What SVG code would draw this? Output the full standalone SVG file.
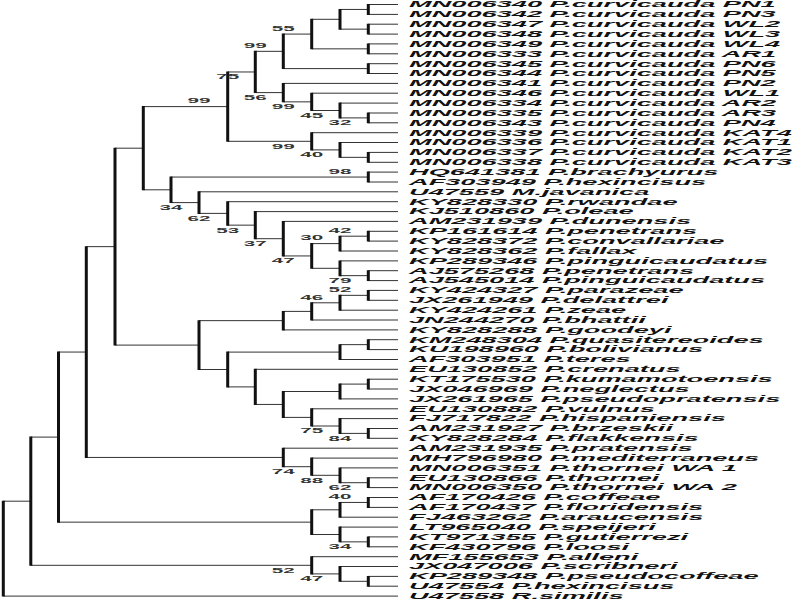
<svg xmlns="http://www.w3.org/2000/svg" width="800" height="600" viewBox="0 0 800 600">
<style>
.h{stroke:#333;stroke-width:1;fill:none}
.v{stroke:#111;stroke-width:3;fill:none}
.lf{font-family:"Liberation Sans",Arial,sans-serif;font-weight:bold;font-style:italic;font-size:8.5px;fill:#111}
.bs{font-family:"Liberation Sans",Arial,sans-serif;font-weight:bold;font-size:7.5px;fill:#333;text-anchor:middle}
</style>
<rect width="800" height="600" fill="#fff"/>
<g id="connectors">
<path class="h" d="M368.3 4.5H398M368.3 14.4H398M368.3 24.2H398M368.3 34.1H398M340 9.45H368.3M340 29.15H368.3M368.3 43.9H398M368.3 53.8H398M311.7 19.3H340M311.7 48.85H368.3M368.3 63.7H398M368.3 73.5H398M283.3 34.08H311.7M283.3 68.6H368.3"/>
<path class="h" d="M368.3 113H398M368.3 122.8H398M340 103.1H398M340 117.9H368.3M311.7 93.2H398M311.7 110.5H340M283.3 83.4H398M283.3 101.85H311.7M255.3 51.34H283.3M255.3 92.6H283.3"/>
<path class="h" d="M368.3 152.4H398M368.3 162.3H398M340 142.5H398M340 157.35H368.3M311.7 132.7H398M311.7 149.9H340M227.7 71.97H255.3M227.7 141.3H311.7"/>
<path class="h" d="M368.3 172.1H398M368.3 182H398M368.3 231.3H398M368.3 241.1H398M340 236.2H368.3M340 251H398M368.3 270.7H398M368.3 280.6H398M340 260.9H398M340 275.65H368.3M311.7 243.6H340M311.7 268.3H340M283.3 221.4H398M283.3 255.95H311.7M255.3 211.6H398M255.3 238.7H283.3M227.7 201.7H398M227.7 225.15H255.3M199 191.8H398M199 213.4H227.7M171 177.05H368.3M171 202.6H199M143.3 106.6H227.7M143.3 189.8H171"/>
<path class="h" d="M368.3 290.4H398M368.3 300.3H398M340 295.35H368.3M340 310.2H398M311.7 302.8H340M311.7 320H398M283.3 311.4H311.7M283.3 329.9H398M368.3 339.7H398M368.3 349.6H398M340 344.65H368.3M340 359.5H398M368.3 379.2H398M368.3 389H398M340 384.1H368.3M340 398.9H398M368.3 428.5H398M368.3 438.3H398M340 418.6H398M340 433.4H368.3M311.7 408.8H398M311.7 426H340M283.3 391.5H340M283.3 417.4H311.7M255.3 369.3H398M255.3 404.45H283.3M227.7 352.1H340M227.7 386.9H255.3M199 320.65H283.3M199 369.5H227.7M115 148.2H143.3M115 345.1H199"/>
<path class="h" d="M368.3 477.8H398M368.3 487.6H398M340 467.9H398M340 482.7H368.3M311.7 458.1H398M311.7 475.3H340M283.3 448.2H398M283.3 466.7H311.7M86.3 246.65H115M86.3 457.45H283.3"/>
<path class="h" d="M368.3 497.5H398M368.3 507.4H398M340 502.45H368.3M340 517.2H398M368.3 536.9H398M368.3 546.8H398M340 527.1H398M340 541.85H368.3M311.7 509.8H340M311.7 534.5H340M58.5 352.05H86.3M58.5 522.15H311.7"/>
<path class="h" d="M368.3 576.4H398M368.3 586.2H398M340 566.5H398M340 581.3H368.3M311.7 556.7H398M311.7 573.9H340M30.8 437.1H58.5M30.8 565.3H311.7M3.3 501.2H30.8M3.3 596.1H398"/>
<path class="v" d="M368.3 4V14.9M368.3 23.7V34.6M340 8.95V29.65M368.3 43.4V54.3M311.7 18.8V49.35M368.3 63.2V74M283.3 33.58V69.1M368.3 112.5V123.3M340 102.6V118.4M311.7 92.7V111M283.3 82.9V102.35M255.3 50.84V93.1M368.3 151.9V162.8M340 142V157.85M311.7 132.2V150.4M227.7 71.47V141.8"/>
<path class="v" d="M368.3 171.6V182.5M368.3 230.8V241.6M340 235.7V251.5M368.3 270.2V281.1M340 260.4V276.15M311.7 243.1V268.8M283.3 220.9V256.45M255.3 211.1V239.2M227.7 201.2V225.65M199 191.3V213.9M171 176.55V203.1M143.3 106.1V190.3"/>
<path class="v" d="M368.3 289.9V300.8M340 294.85V310.7M311.7 302.3V320.5M283.3 310.9V330.4M368.3 339.2V350.1M340 344.15V360M368.3 378.7V389.5M340 383.6V399.4M368.3 428V438.8M340 418.1V433.9M311.7 408.3V426.5M283.3 391V417.9M255.3 368.8V404.95M227.7 351.6V387.4M199 320.15V370M115 147.7V345.6"/>
<path class="v" d="M368.3 477.3V488.1M340 467.4V483.2M311.7 457.6V475.8M283.3 447.7V467.2M86.3 246.15V457.95M368.3 497V507.9M340 501.95V517.7M368.3 536.4V547.3M340 526.6V542.35M311.7 509.3V535M58.5 351.55V522.65M368.3 575.9V586.7M340 566V581.8M311.7 556.2V574.4M30.8 436.6V565.8M3.3 500.7V596.6"/>
</g>
<g id="leaves">
<g id="leaf-0"><text class="lf" transform="translate(409,7.3) scale(3.2,1)">MN006340 P.curvicauda PN1</text></g>
<g id="leaf-1"><text class="lf" transform="translate(409,17.2) scale(3.2,1)">MN006342 P.curvicauda PN3</text></g>
<g id="leaf-2"><text class="lf" transform="translate(409,27) scale(3.2,1)">MN006347 P.curvicauda WL2</text></g>
<g id="leaf-3"><text class="lf" transform="translate(409,36.9) scale(3.2,1)">MN006348 P.curvicauda WL3</text></g>
<g id="leaf-4"><text class="lf" transform="translate(409,46.7) scale(3.2,1)">MN006349 P.curvicauda WL4</text></g>
<g id="leaf-5"><text class="lf" transform="translate(409,56.6) scale(3.2,1)">MN006333 P.curvicauda AR1</text></g>
<g id="leaf-6"><text class="lf" transform="translate(409,66.5) scale(3.2,1)">MN006345 P.curvicauda PN6</text></g>
<g id="leaf-7"><text class="lf" transform="translate(409,76.3) scale(3.2,1)">MN006344 P.curvicauda PN5</text></g>
<g id="leaf-8"><text class="lf" transform="translate(409,86.2) scale(3.2,1)">MN006341 P.curvicauda PN2</text></g>
<g id="leaf-9"><text class="lf" transform="translate(409,96) scale(3.2,1)">MN006346 P.curvicauda WL1</text></g>
<g id="leaf-10"><text class="lf" transform="translate(409,105.9) scale(3.2,1)">MN006334 P.curvicauda AR2</text></g>
<g id="leaf-11"><text class="lf" transform="translate(409,115.8) scale(3.2,1)">MN006335 P.curvicauda AR3</text></g>
<g id="leaf-12"><text class="lf" transform="translate(409,125.6) scale(3.2,1)">MN006343 P.curvicauda PN4</text></g>
<g id="leaf-13"><text class="lf" transform="translate(409,135.5) scale(3.2,1)">MN006339 P.curvicauda KAT4</text></g>
<g id="leaf-14"><text class="lf" transform="translate(409,145.3) scale(3.2,1)">MN006336 P.curvicauda KAT1</text></g>
<g id="leaf-15"><text class="lf" transform="translate(409,155.2) scale(3.2,1)">MN006337 P.curvicauda KAT2</text></g>
<g id="leaf-16"><text class="lf" transform="translate(409,165.1) scale(3.2,1)">MN006338 P.curvicauda KAT3</text></g>
<g id="leaf-17"><text class="lf" transform="translate(409,174.9) scale(3.2,1)">HQ641381 P.brachyurus</text></g>
<g id="leaf-18"><text class="lf" transform="translate(409,184.8) scale(3.2,1)">AF303949 P.hexincisus</text></g>
<g id="leaf-19"><text class="lf" transform="translate(409,194.6) scale(3.2,1)">U47559 M.javanica</text></g>
<g id="leaf-20"><text class="lf" transform="translate(409,204.5) scale(3.2,1)">KY828330 P.rwandae</text></g>
<g id="leaf-21"><text class="lf" transform="translate(409,214.4) scale(3.2,1)">KJ510860 P.oleae</text></g>
<g id="leaf-22"><text class="lf" transform="translate(409,224.2) scale(3.2,1)">AM231939 P.dunensis</text></g>
<g id="leaf-23"><text class="lf" transform="translate(409,234.1) scale(3.2,1)">KP161614 P.penetrans</text></g>
<g id="leaf-24"><text class="lf" transform="translate(409,243.9) scale(3.2,1)">KY828372 P.convallariae</text></g>
<g id="leaf-25"><text class="lf" transform="translate(409,253.8) scale(3.2,1)">KY828362 P.fallax</text></g>
<g id="leaf-26"><text class="lf" transform="translate(409,263.7) scale(3.2,1)">KP289346 P.pinguicaudatus</text></g>
<g id="leaf-27"><text class="lf" transform="translate(409,273.5) scale(3.2,1)">AJ575268 P.penetrans</text></g>
<g id="leaf-28"><text class="lf" transform="translate(409,283.4) scale(3.2,1)">AJ545014 P.pinguicaudatus</text></g>
<g id="leaf-29"><text class="lf" transform="translate(409,293.2) scale(3.2,1)">KY424327 P.parazeae</text></g>
<g id="leaf-30"><text class="lf" transform="translate(409,303.1) scale(3.2,1)">JX261949 P.delattrei</text></g>
<g id="leaf-31"><text class="lf" transform="translate(409,313) scale(3.2,1)">KY424261 P.zeae</text></g>
<g id="leaf-32"><text class="lf" transform="translate(409,322.8) scale(3.2,1)">JN244270 P.bhattii</text></g>
<g id="leaf-33"><text class="lf" transform="translate(409,332.7) scale(3.2,1)">KY828288 P.goodeyi</text></g>
<g id="leaf-34"><text class="lf" transform="translate(409,342.5) scale(3.2,1)">KM248304 P.quasitereoides</text></g>
<g id="leaf-35"><text class="lf" transform="translate(409,352.4) scale(3.2,1)">KU198960 P.bolivianus</text></g>
<g id="leaf-36"><text class="lf" transform="translate(409,362.3) scale(3.2,1)">AF303951 P.teres</text></g>
<g id="leaf-37"><text class="lf" transform="translate(409,372.1) scale(3.2,1)">EU130852 P.crenatus</text></g>
<g id="leaf-38"><text class="lf" transform="translate(409,382) scale(3.2,1)">KT175530 P.kumamotoensis</text></g>
<g id="leaf-39"><text class="lf" transform="translate(409,391.8) scale(3.2,1)">JX046969 P.neglectus</text></g>
<g id="leaf-40"><text class="lf" transform="translate(409,401.7) scale(3.2,1)">JX261965 P.pseudopratensis</text></g>
<g id="leaf-41"><text class="lf" transform="translate(409,411.6) scale(3.2,1)">EU130882 P.vulnus</text></g>
<g id="leaf-42"><text class="lf" transform="translate(409,421.4) scale(3.2,1)">FJ717822 P.hispaniensis</text></g>
<g id="leaf-43"><text class="lf" transform="translate(409,431.3) scale(3.2,1)">AM231927 P.brzeskii</text></g>
<g id="leaf-44"><text class="lf" transform="translate(409,441.1) scale(3.2,1)">KY828284 P.flakkensis</text></g>
<g id="leaf-45"><text class="lf" transform="translate(409,451) scale(3.2,1)">AM231935 P.pratensis</text></g>
<g id="leaf-46"><text class="lf" transform="translate(409,460.9) scale(3.2,1)">MH796980 P.mediterraneus</text></g>
<g id="leaf-47"><text class="lf" transform="translate(409,470.7) scale(3.2,1)">MN006351 P.thornei WA 1</text></g>
<g id="leaf-48"><text class="lf" transform="translate(409,480.6) scale(3.2,1)">EU130866 P.thornei</text></g>
<g id="leaf-49"><text class="lf" transform="translate(409,490.4) scale(3.2,1)">MN006350 P.thornei WA 2</text></g>
<g id="leaf-50"><text class="lf" transform="translate(409,500.3) scale(3.2,1)">AF170426 P.coffeae</text></g>
<g id="leaf-51"><text class="lf" transform="translate(409,510.2) scale(3.2,1)">AF170437 P.floridensis</text></g>
<g id="leaf-52"><text class="lf" transform="translate(409,520) scale(3.2,1)">FJ463262 P.araucensis</text></g>
<g id="leaf-53"><text class="lf" transform="translate(409,529.9) scale(3.2,1)">LT965040 P.speijeri</text></g>
<g id="leaf-54"><text class="lf" transform="translate(409,539.7) scale(3.2,1)">KT971355 P.gutierrezi</text></g>
<g id="leaf-55"><text class="lf" transform="translate(409,549.6) scale(3.2,1)">KF430796 P.loosi</text></g>
<g id="leaf-56"><text class="lf" transform="translate(409,559.5) scale(3.2,1)">MF155653 P.alleni</text></g>
<g id="leaf-57"><text class="lf" transform="translate(409,569.3) scale(3.2,1)">JX047006 P.scribneri</text></g>
<g id="leaf-58"><text class="lf" transform="translate(409,579.2) scale(3.2,1)">KP289348 P.pseudocoffeae</text></g>
<g id="leaf-59"><text class="lf" transform="translate(409,589) scale(3.2,1)">U47554 P.hexincisus</text></g>
<g id="leaf-60"><text class="lf" transform="translate(409,598.9) scale(3.2,1)">U47558 R.similis</text></g>
</g>
<g id="support">
<g id="node-E"><text class="bs" transform="translate(283.3,30.9) scale(2.75,1)">55</text></g>
<g id="node-G"><text class="bs" transform="translate(255.3,48.1) scale(2.75,1)">99</text></g>
<g id="node-H"><text class="bs" transform="translate(227.7,79.3) scale(2.75,1)">75</text></g>
<g id="node-n56"><text class="bs" transform="translate(255.3,99.9) scale(2.75,1)">56</text></g>
<g id="node-I"><text class="bs" transform="translate(199,103.4) scale(2.75,1)">99</text></g>
<g id="node-n9"><text class="bs" transform="translate(283.3,109.2) scale(2.75,1)">99</text></g>
<g id="node-n10"><text class="bs" transform="translate(311.7,117.8) scale(2.75,1)">45</text></g>
<g id="node-n1112"><text class="bs" transform="translate(340,125.2) scale(2.75,1)">32</text></g>
<g id="node-n13"><text class="bs" transform="translate(283.3,148.6) scale(2.75,1)">99</text></g>
<g id="node-n14"><text class="bs" transform="translate(311.7,157.2) scale(2.75,1)">40</text></g>
<g id="node-n1718"><text class="bs" transform="translate(340,173.9) scale(2.75,1)">98</text></g>
<g id="node-K"><text class="bs" transform="translate(171,209.9) scale(2.75,1)">34</text></g>
<g id="node-L"><text class="bs" transform="translate(199,220.7) scale(2.75,1)">62</text></g>
<g id="node-M"><text class="bs" transform="translate(227.7,232.5) scale(2.75,1)">53</text></g>
<g id="node-N"><text class="bs" transform="translate(255.3,246) scale(2.75,1)">37</text></g>
<g id="node-O"><text class="bs" transform="translate(283.3,263.3) scale(2.75,1)">47</text></g>
<g id="node-P"><text class="bs" transform="translate(311.7,240.4) scale(2.75,1)">30</text></g>
<g id="node-n2324"><text class="bs" transform="translate(340,233) scale(2.75,1)">42</text></g>
<g id="node-n2728"><text class="bs" transform="translate(340,283) scale(2.75,1)">79</text></g>
<g id="node-n2930"><text class="bs" transform="translate(340,292.2) scale(2.75,1)">52</text></g>
<g id="node-R"><text class="bs" transform="translate(311.7,299.6) scale(2.75,1)">46</text></g>
<g id="node-AB"><text class="bs" transform="translate(311.7,433.3) scale(2.75,1)">75</text></g>
<g id="node-n4344"><text class="bs" transform="translate(340,440.7) scale(2.75,1)">84</text></g>
<g id="node-AF"><text class="bs" transform="translate(283.3,474) scale(2.75,1)">74</text></g>
<g id="node-AG"><text class="bs" transform="translate(311.7,482.6) scale(2.75,1)">88</text></g>
<g id="node-n4849"><text class="bs" transform="translate(340,490) scale(2.75,1)">62</text></g>
<g id="node-n5051"><text class="bs" transform="translate(340,499.3) scale(2.75,1)">40</text></g>
<g id="node-n5455"><text class="bs" transform="translate(340,549.2) scale(2.75,1)">34</text></g>
<g id="node-AL"><text class="bs" transform="translate(283.3,572.6) scale(2.75,1)">52</text></g>
<g id="node-AM"><text class="bs" transform="translate(311.7,581.2) scale(2.75,1)">47</text></g>
</g>
</svg>
